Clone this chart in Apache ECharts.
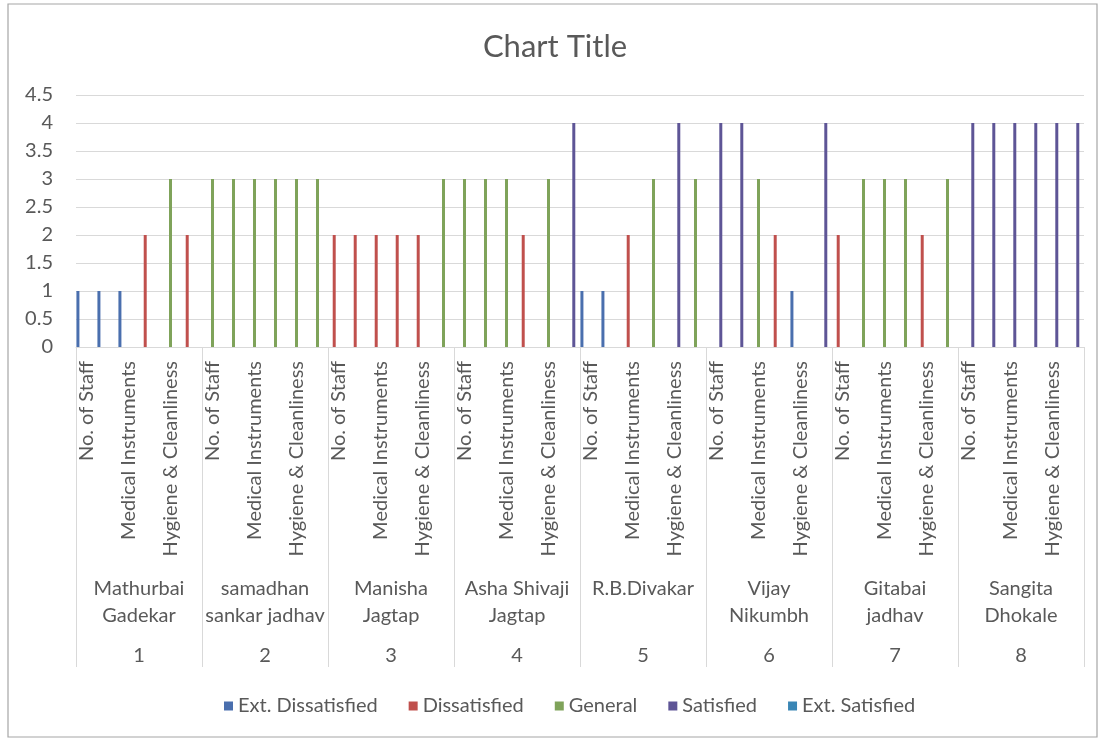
<!DOCTYPE html>
<html><head><meta charset="utf-8">
<script src="https://cdn.jsdelivr.net/npm/echarts@6/dist/echarts.min.js"></script>
<style>html,body{margin:0;padding:0;background:#fff}#c{width:1110px;height:740px}</style>
</head><body><div id="c"></div>
<script>
// ---- data ----
const seriesNames = ['Ext. Dissatisfied', 'Dissatisfied', 'General', 'Satisfied', 'Ext. Satisfied'];
// inner category level (only every other label is legible in the reference)
const aspects = ['No. of Staff', '', 'Medical Instruments', '', 'Hygiene & Cleanliness', ''];
const respondents = ['Mathurbai\nGadekar', 'samadhan\nsankar jadhav', 'Manisha\nJagtap', 'Asha Shivaji\nJagtap',
  'R.B.Divakar', 'Vijay\nNikumbh', 'Gitabai\njadhav', 'Sangita\nDhokale'];
const respondentIds = ['1', '2', '3', '4', '5', '6', '7', '8'];
const scores1 = [1, 1, 1, 2, 3, 2];
const scores2 = [3, 3, 3, 3, 3, 3];
const scores3 = [2, 2, 2, 2, 2, 3];
const scores4 = [3, 3, 3, 2, 3, 4];
const scores5 = [1, 1, 2, 3, 4, 3];
const scores6 = [4, 4, 3, 2, 1, 4];
const scores7 = [2, 3, 3, 3, 2, 3];
const scores8 = [4, 4, 4, 4, 4, 4];
const yTicks = { min: 0, max: 4.5, interval: 0.5 };

// ---- build ----
const allScores = [scores1, scores2, scores3, scores4, scores5, scores6, scores7, scores8];
const categories = [];
respondents.forEach(() => aspects.forEach(a => categories.push(a)));
const flat = allScores.flat();
const colors = ['#4a6fae', '#c0504d', '#7fa35a', '#5e5596', '#3a86b5'];
const FONT = 'Lato';
const TXT = '#595959';

const chart = echarts.init(document.getElementById('c'));
chart.setOption({
  animation: false,
  color: colors,
  title: {
    text: 'Chart Title', left: 'center', top: 26,
    textStyle: { fontFamily: FONT, fontSize: 31, fontWeight: 'normal', color: TXT }
  },
  legend: {
    data: seriesNames, left: 219, top: 691,
    icon: 'rect', itemWidth: 9, itemHeight: 9, itemGap: 31,
    textStyle: { fontFamily: FONT, fontSize: 20, color: TXT }
  },
  graphic: [{
    type: 'rect', shape: { x: 8, y: 4, width: 1089, height: 733 },
    style: { fill: 'none', stroke: '#a6a6a6', lineWidth: 1.2 }, silent: true, z: -1
  }],
  grid: { left: 76, right: 26, top: 95, bottom: 393 },
  xAxis: [{
    type: 'category', data: categories, position: 'bottom',
    axisLine: { lineStyle: { color: '#d9d9d9' } },
    axisTick: { show: false },
    splitLine: { show: false },
    axisLabel: { interval: 0, rotate: 90, margin: 14, fontFamily: FONT, fontSize: 20, color: TXT }
  }, {
    type: 'category', data: respondents, position: 'bottom',
    axisLine: { show: false },
    axisTick: { show: true, length: 320, lineStyle: { color: '#d9d9d9' } },
    splitLine: { show: false },
    axisLabel: { interval: 0, margin: 228, lineHeight: 27, fontFamily: FONT, fontSize: 20, color: TXT }
  }, {
    type: 'category', data: respondentIds, position: 'bottom',
    axisLine: { show: false }, axisTick: { show: false }, splitLine: { show: false },
    axisLabel: { interval: 0, margin: 299, fontFamily: FONT, fontSize: 20, color: TXT }
  }],
  yAxis: {
    type: 'value', min: yTicks.min, max: yTicks.max, interval: yTicks.interval,
    axisLine: { show: false }, axisTick: { show: false },
    splitLine: { lineStyle: { color: '#d9d9d9' } },
    axisLabel: { margin: 23, fontFamily: FONT, fontSize: 20, color: TXT }
  },
  series: seriesNames.map((name, k) => ({
    name, type: 'bar', xAxisIndex: 0,
    barWidth: 3, barGap: '43%',
    data: flat.map(v => (v === k + 1 ? v : '-'))
  }))
});
</script></body></html>
